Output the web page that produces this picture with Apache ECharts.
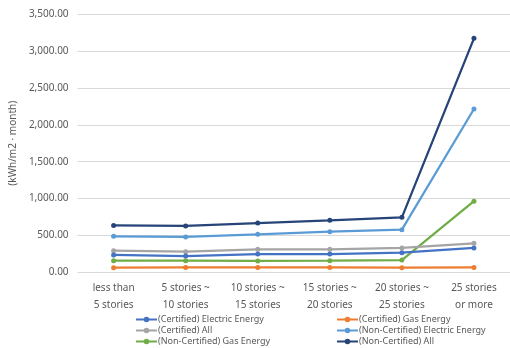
<!DOCTYPE html>
<html><head><meta charset="utf-8">
<script src="https://cdn.jsdelivr.net/npm/echarts@6/dist/echarts.min.js"></script>
<style>html,body{margin:0;padding:0;background:#fff}#c{width:510px;height:348px}</style>
</head><body><div id="c"></div>
<script>
var categories = ["less than\n5 stories","5 stories ~\n10 stories","10 stories ~\n15 stories","15 stories ~\n20 stories","20 stories ~\n25 stories","25 stories\nor more"];
var certElectric = [237, 223, 250, 250, 268, 332];
var certGas = [65, 68, 68, 68, 65, 68];
var certAll = [295, 282, 314, 314, 332, 395];
var nonCertElectric = [490, 481, 517, 552, 580, 2214];
var nonCertGas = [160, 160, 156, 160, 169, 965];
var nonCertAll = [637, 630, 670, 707, 747, 3171];
var names = ["(Certified) Electric Energy","(Certified) Gas Energy","(Certified) All","(Non-Certified) Electric Energy","(Non-Certified) Gas Energy","(Non-Certified) All"];
var colors = ["#4472C4","#ED7D31","#A5A5A5","#5B9BD5","#70AD47","#264478"];
var values = [certElectric, certGas, certAll, nonCertElectric, nonCertGas, nonCertAll];
var FONT = "'Noto Sans', sans-serif";
var chart = echarts.init(document.getElementById('c'), null, {renderer:'canvas'});
var series = values.map(function(v,i){
  return {name:names[i], type:'line', data:v, symbol:'circle', symbolSize:5,
    lineStyle:{width:2.25, color:colors[i]}, itemStyle:{color:colors[i]}, z: 10-i};
});
var legendCommon = {orient:'vertical', itemWidth:21, itemHeight:7, itemGap:0, height:40,
  textStyle:{fontSize:9, lineHeight:11, color:'#595959', fontFamily:FONT, padding:[0,0,0,-4]}, padding:0, selectedMode:false};
chart.setOption({
  animation:false,
  grid:{left:68, right:-1, top:14, bottom:75.5},
  legend:[
    Object.assign({left:135, top:314, data:[names[0],names[2],names[4]]}, legendCommon),
    Object.assign({left:336, top:314, data:[names[1],names[3],names[5]]}, legendCommon)
  ],
  xAxis:{type:'category', data:categories, boundaryGap:true,
    axisLine:{show:false}, axisTick:{show:false},
    axisLabel:{color:'#595959', fontSize:10, fontFamily:FONT, lineHeight:17, margin:7}},
  yAxis:{type:'value', min:0, max:3500, interval:500,
    name:'(kWh/m2 · month)', nameLocation:'middle', nameGap:48, nameRotate:90,
    nameTextStyle:{color:'#595959', fontSize:10, fontFamily:FONT},
    axisLine:{show:false}, axisTick:{show:false},
    splitLine:{lineStyle:{color:'#D9D9D9', width:1}},
    axisLabel:{color:'#595959', fontSize:10, fontFamily:FONT, margin:9,
      formatter:function(v){return v.toLocaleString('en-US',{minimumFractionDigits:2, maximumFractionDigits:2});}}},
  series:series
});
</script></body></html>
